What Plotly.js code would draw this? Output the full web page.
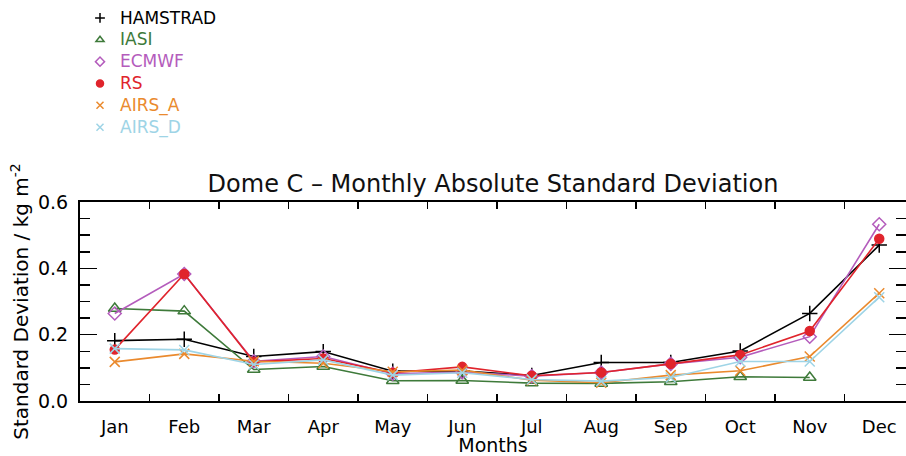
<!DOCTYPE html>
<html>
<head>
<meta charset="utf-8">
<script src="https://cdn.plot.ly/plotly-3.0.1.min.js"></script>
<style>html,body{margin:0;padding:0;background:#fff;}#chart{width:906px;height:456px;}</style>
</head>
<body>
<div id="chart"></div>
<script>
const months = ["Jan","Feb","Mar","Apr","May","Jun","Jul","Aug","Sep","Oct","Nov","Dec"];
const hamstrad = [0.182, 0.186, 0.134, 0.149, 0.090, 0.090, 0.077, 0.116, 0.116, 0.151, 0.264, 0.470];
const iasi     = [0.279, 0.271, 0.095, 0.104, 0.061, 0.062, 0.054, 0.053, 0.058, 0.073, 0.071, null];
const ecmwf    = [0.264, 0.383, 0.120, 0.134, 0.082, 0.087, 0.075, 0.086, 0.112, 0.132, 0.194, 0.533];
const rs       = [0.155, 0.383, 0.118, 0.128, 0.085, 0.103, 0.076, 0.086, 0.112, 0.139, 0.211, 0.489];
const airsA    = [0.118, 0.142, 0.120, 0.114, 0.088, 0.093, 0.063, 0.055, 0.078, 0.091, 0.134, 0.325];
const airsD    = [0.158, 0.154, 0.110, 0.124, 0.078, 0.085, 0.065, 0.060, 0.071, 0.119, 0.119, 0.313];

const seriesNames = ["HAMSTRAD","IASI","ECMWF","RS","AIRS_A","AIRS_D"];
const seriesData = [hamstrad, iasi, ecmwf, rs, airsA, airsD];
const colors = ["#000000","#3e7a3a","#b45cbc","#e0242c","#ea8a2e","#9ed4e6"];
const symbols = ["cross-thin-open","triangle-up-open","diamond-open","circle","x-thin-open","x-thin-open"];
const sizes = [11, 11, 10, 9, 10, 10];

const xIdx = months.map((m,i)=>i);
const traces = [];
seriesData.forEach((d,k)=>{
  traces.push({
    x: xIdx, y: d, type:'scatter', mode:'lines+markers', showlegend:false,
    line:{color:colors[k], width:1.6},
    marker:{symbol:symbols[k], size:sizes[k], color:colors[k], line:{color:colors[k], width:1.5}},
    hoverinfo:'skip'
  });
});
seriesData.forEach((d,k)=>{
  traces.push({
    x:[null], y:[null], type:'scatter', mode:'markers', showlegend:true,
    name:'<span style="color:'+colors[k]+';font-size:17px">'+seriesNames[k]+'</span>',
    marker:{symbol:symbols[k], size:7, color:colors[k], line:{color:colors[k], width:1.5}}
  });
});

const font = "DejaVu Sans, sans-serif";
const layout = {
  width:906, height:456,
  margin:{l:80, r:0, t:202, b:55},
  paper_bgcolor:'#fff', plot_bgcolor:'#fff',
  font:{family:font, color:'#000', size:17},
  title:{text:'Dome C – Monthly Absolute Standard Deviation', font:{family:font, size:24, color:'#111'},
         x:0.5, xref:'paper', y:1-184/456, yref:'container', yanchor:'middle'},
  xaxis:{
    range:[-0.5, 11.385], tickmode:'array', tickvals:xIdx, ticktext:months,
    ticks:'', showgrid:false, zeroline:false,
    showline:true, linecolor:'#000', linewidth:2, mirror:'ticks',
    ticklabelstandoff:8, tickfont:{size:18},
    minor:{tickmode:'array', tickvals:[0.5,1.5,2.5,3.5,4.5,5.5,6.5,7.5,8.5,9.5,10.5,11.5], ticks:'inside', ticklen:7, tickcolor:'#000', tickwidth:1.5, showgrid:false},
    title:{text:'Months', font:{size:19}, standoff:2}
  },
  yaxis:{
    range:[0, 0.6], tickmode:'array', tickvals:[0,0.2,0.4,0.6], ticktext:['0.0','0.2','0.4','0.6'],
    ticks:'inside', ticklen:17, tickwidth:1.5, tickcolor:'#000',
    showgrid:false, zeroline:false,
    showline:true, linecolor:'#000', linewidth:2, mirror:'ticks',
    ticklabelstandoff:6, tickfont:{size:19},
    minor:{dtick:0.05, tick0:0, ticks:'inside', ticklen:10, tickcolor:'#000', tickwidth:1.5, showgrid:false},
    title:{text:'Standard Deviation / kg m<sup>-2</sup>', font:{size:20}, standoff:4}
  },
  legend:{x:0.0, xanchor:'left', y:2.005, yanchor:'top', bgcolor:'rgba(0,0,0,0)',
          font:{size:14.5}, itemwidth:30, tracegroupgap:0},
  showlegend:true
};
Plotly.newPlot('chart', traces, layout, {staticPlot:true, displayModeBar:false});
</script>
</body>
</html>
